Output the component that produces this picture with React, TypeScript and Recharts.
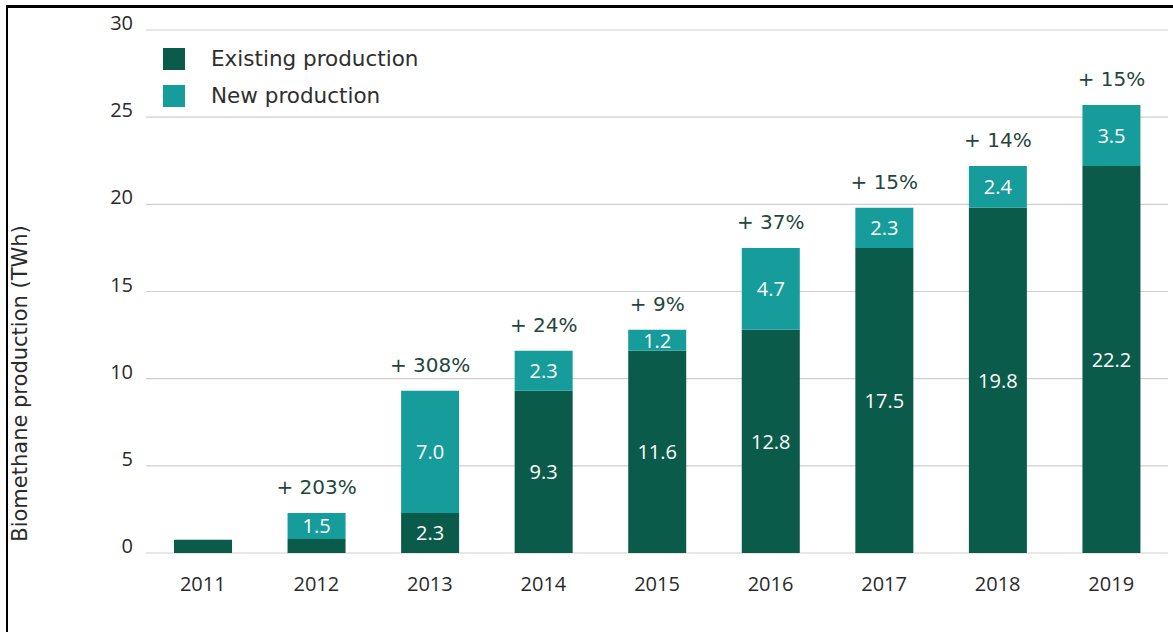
import React from 'react';
import { BarChart, Bar, XAxis, YAxis, CartesianGrid, LabelList, Legend } from 'recharts';

const years = ['2011', '2012', '2013', '2014', '2015', '2016', '2017', '2018', '2019'];
const existingProduction = [0.76, 0.8, 2.3, 9.3, 11.6, 12.8, 17.5, 19.8, 22.2];
const newProduction = [0, 1.5, 7.0, 2.3, 1.2, 4.7, 2.3, 2.4, 3.5];
const growthLabels = ['', '+ 203%', '+ 308%', '+ 24%', '+ 9%', '+ 37%', '+ 15%', '+ 14%', '+ 15%'];
const yTicks = [0, 5, 10, 15, 20, 25, 30];

const data = years.map((year, i) => ({
  year,
  existing: existingProduction[i],
  added: newProduction[i],
  growth: growthLabels[i],
}));

const DARK = '#0b5b4a';
const TEAL = '#179c9c';
const FONT = '"Open Sans", Lato, sans-serif';
const WIDE = '"DejaVu Sans", "Open Sans", sans-serif';

const InsideLabel = (props: any) => {
  const { x, y, width, height, value } = props;
  if (value == null || Number(value) < 1) return null;
  return (
    <text x={x + width / 2} y={y + height / 2} textAnchor="middle" dominantBaseline="central"
      fill="#ffffff" fontSize={20} fontFamily={FONT}>
      {Number(value).toFixed(1)}
    </text>
  );
};

const GrowthLabel = (props: any) => {
  const { x, y, width, value } = props;
  if (!value) return null;
  return (
    <text x={x + width / 2} y={y - 26} textAnchor="middle" dominantBaseline="central"
      fill="#1f473d" fontSize={20} fontFamily={WIDE}>
      {value}
    </text>
  );
};

const XTick = (props: any) => {
  const { x, y, payload } = props;
  return (
    <text x={x} y={y + 38} textAnchor="middle" fill="#2a2a2a" fontSize={20} fontFamily={FONT}>
      {payload.value}
    </text>
  );
};

const YTick = (props: any) => {
  const { x, y, payload } = props;
  return (
    <text x={x - 13} y={y} textAnchor="end" fill="#2a2a2a" fontSize={20} fontFamily={FONT}>
      {payload.value}
    </text>
  );
};

const YLabel = (props: any) => {
  const { viewBox } = props;
  const cy = viewBox.y + viewBox.height / 2 + 92;
  const cx = 20;
  return (
    <text x={cx} y={cy} transform={`rotate(-90, ${cx}, ${cy})`} textAnchor="middle" dominantBaseline="central"
      fill="#2a2a2a" fontSize={21} fontFamily={WIDE}>
      Biomethane production (TWh)
    </text>
  );
};

const legendItems = [
  { label: 'Existing production', color: DARK },
  { label: 'New production', color: TEAL },
];

const LegendContent = () => (
  <div style={{ fontFamily: WIDE }}>
    {legendItems.map((it) => (
      <div key={it.label} style={{ display: 'flex', alignItems: 'center', height: 37 }}>
        <div style={{ width: 22, height: 22, background: it.color, marginRight: 26 }} />
        <span style={{ fontSize: 21.5, color: '#2e2e2e' }}>{it.label}</span>
      </div>
    ))}
  </div>
);

export default function App() {
  return (
    <div style={{ position: 'fixed', left: 0, top: 0, width: 1173, height: 632, background: '#fff', overflow: 'hidden' }}>
      <div style={{ position: 'absolute', left: 6, top: 5, right: -10, bottom: -10, borderLeft: '2px solid #000', borderTop: '3px solid #000' }} />
      <BarChart width={1173} height={632} data={data} margin={{ top: 30, right: 5, bottom: 0, left: 0 }} barSize={58}>
        <CartesianGrid vertical={false} stroke="#cfcfcf" strokeWidth={1.2} />
        <XAxis dataKey="year" axisLine={false} tickLine={false} tickSize={0} tickMargin={0} height={79} tick={<XTick />} interval={0} />
        <YAxis domain={[0, 30]} ticks={yTicks} axisLine={false} tickLine={false} tickSize={0} tickMargin={0} width={146} tick={<YTick />}
          label={{ content: <YLabel /> }} />
        <Legend layout="vertical" align="center" verticalAlign="middle" content={<LegendContent />}
          wrapperStyle={{ left: 163, top: 40, width: 340 }} />
        <Bar dataKey="existing" stackId="a" fill={DARK} isAnimationActive={false} name="Existing production">
          <LabelList dataKey="existing" content={<InsideLabel />} />
        </Bar>
        <Bar dataKey="added" stackId="a" fill={TEAL} isAnimationActive={false} name="New production">
          <LabelList dataKey="added" content={<InsideLabel />} />
          <LabelList dataKey="growth" content={<GrowthLabel />} />
        </Bar>
      </BarChart>
    </div>
  );
}
